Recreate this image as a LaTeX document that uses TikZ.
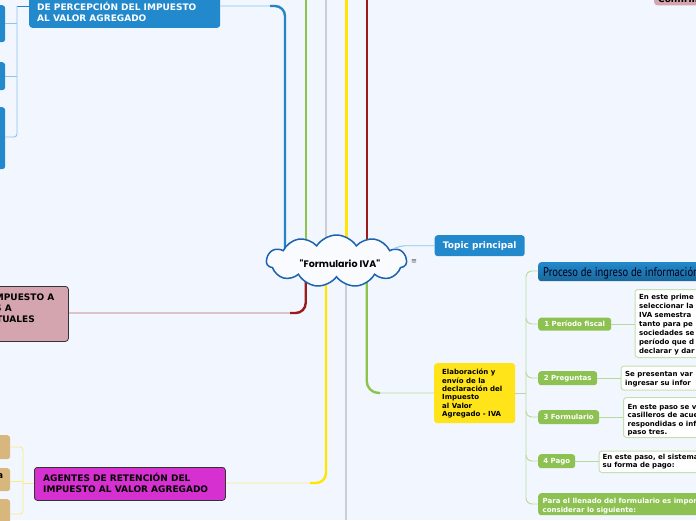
\documentclass[tikz,border=0pt]{standalone}
\usepackage{fontspec}
\setmainfont{DejaVu Sans}
\newfontfamily\procfont[FakeStretch=0.84]{PT Sans}
\newfontfamily\cloudfont{Poppins}
\usetikzlibrary{shapes.symbols}
\definecolor{bg}{HTML}{F2F6FE}
\definecolor{bluebox}{HTML}{2389CD}
\definecolor{blueline}{HTML}{2584C8}
\definecolor{lightblue}{HTML}{8EC4EA}
\definecolor{pinkbox}{HTML}{D4A5AE}
\definecolor{magbox}{HTML}{D630D0}
\definecolor{tanbox}{HTML}{D8B77E}
\definecolor{yelbox}{HTML}{FFE419}
\definecolor{greenbox}{HTML}{8DC152}
\definecolor{greenline}{HTML}{8CC34A}
\definecolor{lightgreen}{HTML}{B7DA9B}
\definecolor{detborder}{HTML}{C5E0B0}
\definecolor{greyline}{HTML}{CDCDD2}
\definecolor{yelline}{HTML}{FFE600}
\definecolor{lightyel}{HTML}{FBEA8A}
\definecolor{redline}{HTML}{9B1B1B}
\definecolor{lightred}{HTML}{B86A70}
\definecolor{cloudblue}{HTML}{1B62B0}
\tikzset{
  mainline/.style={line width=2.4pt},
  subline/.style={line width=0.9pt},
  rbox/.style={rounded corners=3pt, inner sep=0pt, anchor=north west},
  bigtxt/.style={inner sep=0pt, align=left, anchor=base west, font=\bfseries\fontsize{9}{11}\selectfont},
  smalltxt/.style={inner sep=0pt, align=left, anchor=base west, font=\bfseries\fontsize{7}{8.6}\selectfont},
  gbox/.style={rbox, fill=greenbox, text=white, font=\bfseries\fontsize{7}{8.6}\selectfont},
  detbox/.style={rbox, fill=white, draw=detborder, line width=1pt},
}
\begin{document}
\begin{tikzpicture}[x=1pt,y=-1pt]
\useasboundingbox (0,0) rectangle (696,520);
\fill[bg] (0,0) rectangle (696,520);
\clip (0,0) rectangle (696,520);

% ---------- coordinates for connector ends
\coordinate (topB) at (285,0);
\coordinate (topG) at (305.7,0);
\coordinate (topGr) at (326,0);
\coordinate (topY) at (346.5,0);
\coordinate (topR) at (367,0);
\coordinate (botGr) at (346,520);

% ---------- main branch lines (behind the cloud)
\draw[mainline, greenline] (topG) -- (305.7,250);
\draw[mainline, greyline] (topGr) -- (326,250);
\draw[mainline, yelline] (topY) -- (346.5,250);
\draw[mainline, redline] (topR) -- (367,250);
\draw[mainline, greyline] (346,270) -- (botGr);

% ---------- left top blue box
\node[rbox, fill=bluebox, minimum width=191pt, minimum height=40pt, anchor=south west] (percep) at (29,28) {};
\node[bigtxt, text=white] (perceptxt) at (37,21) {DE PERCEPCIÓN DEL IMPUESTO\\AL VALOR AGREGADO};
\draw[subline, lightblue, rounded corners=10pt] (percep.east |- 0,6) -- (285,6) -- (285,30);
\draw[mainline, blueline, rounded corners=10pt] (270,6) -- (285,6) -- (285,250);

% left small blue boxes
\node[rbox, fill=bluebox, minimum width=15pt, minimum height=37pt] (lb1) at (-10,5) {};
\node[rbox, fill=bluebox, minimum width=15pt, minimum height=28pt] (lb2) at (-10,62) {};
\node[rbox, fill=bluebox, minimum width=15pt, minimum height=62pt] (lb3) at (-10,107) {};
\draw[subline, blueline] (percep.west |- 0,6) -- (17,6);
\draw[subline, lightblue, rounded corners=3pt] (17,6) -- (17,137) -- (lb3.east |- 0,137);
\draw[subline, lightblue] (17,23) -- (lb1.east |- 0,23);
\draw[subline, lightblue] (17,76) -- (lb2.east |- 0,76);

% ---------- pink box (left middle)
\node[rbox, fill=pinkbox, draw=black!80, line width=0.8pt, minimum width=80pt, minimum height=55pt] (pink) at (-12,286) {};
\node[inner sep=0pt, anchor=base east, font=\bfseries\fontsize{9}{11}\selectfont] (pinkt1) at (54.5,300) {IMPUESTO A};
\node[inner sep=0pt, anchor=base east, font=\bfseries\fontsize{9}{11}\selectfont] (pinkt2) at (12,311) {S A};
\node[inner sep=0pt, anchor=base east, font=\bfseries\fontsize{9}{11}\selectfont] (pinkt3) at (35,322) {TUALES};
\draw[subline, lightred, rounded corners=10pt] (pink.east |- 0,313) -- (305.7,313) -- (305.7,290);
\draw[mainline, redline, rounded corners=10pt] (290,313) -- (305.7,313) -- (305.7,270);

% ---------- magenta box (left bottom)
\node[rbox, fill=magbox, draw=black!80, line width=0.8pt, minimum width=191pt, minimum height=33pt] (mag) at (34,467) {};
\node[bigtxt] (magtxt) at (43,492.5) {AGENTES DE RETENCIÓN DEL\\IMPUESTO AL VALOR AGREGADO};
\draw[subline, lightyel, rounded corners=10pt] (mag.east |- 0,483) -- (326,483) -- (326,460);
\draw[mainline, yelline, rounded corners=10pt] (310,483) -- (326,483) -- (326,270);

% tan boxes
\node[rbox, fill=tanbox, minimum width=20pt, minimum height=24pt] (tan1) at (-10,435) {};
\node[rbox, fill=tanbox, minimum width=20pt, minimum height=23pt] (tan2) at (-10,468) {};
\node[rbox, fill=tanbox, minimum width=20pt, minimum height=30pt] (tan3) at (-10,499) {};
\node[inner sep=0pt, anchor=base east, font=\bfseries\fontsize{9}{11}\selectfont] (tan2t) at (3.5,478) {a};
\draw[subline, lightyel, rounded corners=3pt] (tan1.east |- 0,447) -- (23,447) -- (23,514) -- (tan3.east |- 0,514);
\draw[subline, lightyel] (23,481) -- (tan2.east |- 0,481);
\draw[subline, lightyel] (mag.west |- 0,483) -- (23,483);

% ---------- green branch to the yellow box
\node[rbox, fill=yelbox, minimum width=81pt, minimum height=60pt] (yel) at (434,363) {};
\node[smalltxt, font=\bfseries\fontsize{7}{8.3}\selectfont] (yeltxt) at (442,416.3) {Elaboración y\\envío de la\\declaración del\\Impuesto\\al Valor\\Agregado - IVA};
\draw[subline, lightgreen, rounded corners=12pt] (yel.west |- 0,393) -- (366.7,393) -- (366.7,370);
\draw[mainline, greenline, rounded corners=12pt] (380,393) -- (366.7,393) -- (366.7,270);

% ---------- cloud
\node[cloud, cloud puffs=11, cloud puff arc=115, aspect=2.7, draw=cloudblue, line width=1.5pt, fill=white!60!bg, minimum width=140pt, minimum height=52pt, inner sep=0pt] (cloud) at (336.5,261) {};
\node[inner sep=0pt, font=\cloudfont\bfseries\fontsize{9.5}{10}\selectfont] (cloudtxt) at (340,264) {"Formulario IVA"};
\node[inner sep=0pt, font=\fontsize{7}{8}\selectfont, text=black!70] (menu) at (414,262) {≡};

% ---------- topic principal
\node[rbox, fill=bluebox, minimum width=90pt, minimum height=21pt, text=white, font=\bfseries\fontsize{9}{11}\selectfont] (topic) at (434.5,235) {Topic principal};
\draw[subline, lightblue, rounded corners=6pt] (393,249) -- (400,245.7) -- (topic.west |- 0,245.7);

% ---------- right column
\draw[subline, lightgreen] (yel.east |- 0,393) -- (526,393);
\node[rbox, top color=bluebox, bottom color=bluebox!75!black, minimum width=170pt, minimum height=19pt] (proc) at (538,262) {};
\node[inner sep=0pt, anchor=base west, font=\procfont\fontsize{12.6}{13}\selectfont, text=black!90!blue] (proctxt) at (543,276.5) {Proceso de ingreso de información};

\node[gbox, minimum width=73pt, minimum height=13pt] (p1) at (538,317.5) {1 Período fiscal};
\node[gbox, minimum width=59pt, minimum height=14pt] (p2) at (538,371) {2 Preguntas};
\node[gbox, minimum width=61pt, minimum height=14pt] (p3) at (538,410) {3 Formulario};
\node[gbox, minimum width=37pt, minimum height=14pt] (p4) at (538,454) {4 Pago};
\node[gbox, minimum width=170pt, minimum height=22pt] (p5) at (538,493) {};
\node[smalltxt, text=white] (p5txt) at (542.5,512) {Para el llenado del formulario es impor\\considerar lo siguiente:};

\draw[subline, lightgreen, rounded corners=6pt] (proc.west |- 0,271) -- (526,271) -- (526,504) -- (p5.west |- 0,504);
\draw[subline, lightgreen, rounded corners=6pt] (526,318) -- (526,324) -- (p1.west |- 0,324);
\draw[subline, lightgreen, rounded corners=6pt] (526,372) -- (526,378) -- (p2.west |- 0,378);
\draw[subline, lightgreen, rounded corners=6pt] (526,411) -- (526,417) -- (p3.west |- 0,417);
\draw[subline, lightgreen, rounded corners=6pt] (526,455) -- (526,461) -- (p4.west |- 0,461);

% detail boxes
\node[detbox, minimum width=70pt, minimum height=68pt] (d1) at (634.5,289) {};
\node[smalltxt, font=\bfseries\fontsize{7}{9}\selectfont] (d1t) at (639,353) {En este prime\\seleccionar la\\IVA semestra\\tanto para pe\\sociedades se\\período que d\\declarar y dar};
\node[detbox, minimum width=85pt, minimum height=24pt] (d2) at (620.5,365.5) {};
\node[smalltxt, font=\bfseries\fontsize{7}{9}\selectfont] (d2t) at (625,385) {Se presentan var\\ingresar su infor};
\node[detbox, minimum width=80pt, minimum height=40pt] (d3) at (623,397) {};
\node[smalltxt, font=\bfseries\fontsize{7}{8.5}\selectfont] (d3t) at (627.5,434.5) {En este paso se v\\casilleros de acue\\respondidas o inf\\paso tres.};
\node[detbox, minimum width=105pt, minimum height=21.5pt] (d4) at (598.5,450.5) {};
\node[smalltxt, font=\bfseries\fontsize{7}{8}\selectfont] (d4t) at (602.5,467.5) {En este paso, el sistema l\\su forma de pago:};

\draw[subline, lightgreen] (p1.east |- 0,324) -- (d1.west |- 0,324);
\draw[subline, lightgreen] (p2.east |- 0,378) -- (d2.west |- 0,378);
\draw[subline, lightgreen] (p3.east |- 0,417) -- (d3.west |- 0,417);
\draw[subline, lightgreen] (p4.east |- 0,461) -- (d4.west |- 0,461);

% ---------- top right pink box
\node[rbox, fill=pinkbox, minimum width=50pt, minimum height=16pt, anchor=south west] (conf) at (654,5.5) {};
\node[inner sep=0pt, anchor=base west, font=\bfseries\fontsize{9}{11}\selectfont] (conftxt) at (658,2.5) {Confirm};
\end{tikzpicture}
\end{document}
